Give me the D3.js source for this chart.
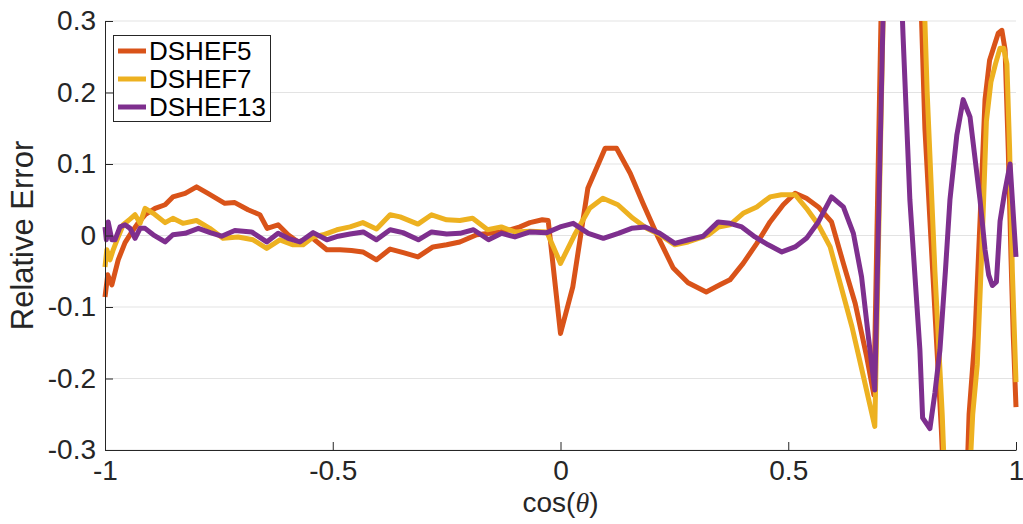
<!DOCTYPE html>
<html>
<head>
<meta charset="utf-8">
<script src="https://cdn.jsdelivr.net/npm/d3@7"></script>
<style>
  html, body { margin: 0; padding: 0; background: #fff; }
  svg { display: block; font-family: "Liberation Sans", Arial, Helvetica, sans-serif; }
</style>
</head>
<body>
<svg id="chart" width="1023" height="524"></svg>
<script>
// ---------- data ----------
const seriesNames = ["DSHEF5", "DSHEF7", "DSHEF13"];
const seriesColors = ["#D95319", "#EDB120", "#7E2F8E"];

const xTicks = [-1, -0.5, 0, 0.5, 1];
const xTickLabels = ["-1", "-0.5", "0", "0.5", "1"];
const yTicks = [-0.3, -0.2, -0.1, 0, 0.1, 0.2, 0.3];
const yTickLabels = ["-0.3", "-0.2", "-0.1", "0", "0.1", "0.2", "0.3"];

// DSHEF5
const x5 = [-1.000,-0.994,-0.985,-0.971,-0.956,-0.941,-0.928,-0.912,-0.890,-0.868,-0.851,-0.824,-0.799,-0.774,-0.737,-0.715,-0.686,-0.660,-0.644,-0.620,-0.598,-0.576,-0.546,-0.513,-0.484,-0.459,-0.434,-0.404,-0.374,-0.345,-0.313,-0.280,-0.250,-0.221,-0.184,-0.155,-0.133,-0.111,-0.089,-0.067,-0.040,-0.027,0.000,0.027,0.060,0.098,0.123,0.153,0.181,0.214,0.247,0.280,0.320,0.350,0.372,0.401,0.431,0.460,0.489,0.515,0.540,0.566,0.595,0.621,0.647,0.672,0.688,0.708,0.728,0.748,0.766,0.783,0.800,0.818,0.836,0.852,0.868,0.884,0.897,0.910,0.921,0.932,0.942,0.952,0.961,0.969,0.976,0.983,0.989,0.994,1.000];
const y5 = [-0.086,-0.055,-0.069,-0.034,-0.010,0.005,0.017,0.029,0.038,0.043,0.054,0.059,0.068,0.059,0.045,0.046,0.036,0.029,0.010,0.015,0.001,-0.009,-0.003,-0.020,-0.020,-0.021,-0.023,-0.034,-0.019,-0.024,-0.030,-0.016,-0.013,-0.009,0.001,0.003,0.005,0.008,0.012,0.018,0.022,0.021,-0.137,-0.072,0.066,0.122,0.122,0.087,0.045,-0.002,-0.045,-0.066,-0.079,-0.069,-0.062,-0.039,-0.011,0.019,0.043,0.059,0.052,0.040,0.019,-0.039,-0.095,-0.169,-0.223,0.45,0.80,0.95,0.85,0.50,0.15,-0.06,-0.27,-0.50,-0.62,-0.50,-0.25,-0.14,0.02,0.19,0.245,0.265,0.283,0.287,0.26,0.12,-0.03,-0.14,-0.24];

// DSHEF7
const x7 = [-1.000,-0.996,-0.989,-0.982,-0.971,-0.960,-0.945,-0.934,-0.923,-0.912,-0.894,-0.868,-0.851,-0.829,-0.799,-0.770,-0.741,-0.708,-0.675,-0.645,-0.616,-0.587,-0.565,-0.543,-0.521,-0.491,-0.462,-0.434,-0.404,-0.374,-0.352,-0.313,-0.283,-0.250,-0.221,-0.193,-0.160,-0.130,-0.100,-0.067,-0.030,0.000,0.031,0.064,0.093,0.126,0.159,0.189,0.218,0.251,0.280,0.313,0.325,0.347,0.372,0.401,0.431,0.460,0.485,0.515,0.540,0.566,0.592,0.614,0.640,0.665,0.690,0.710,0.730,0.750,0.770,0.790,0.805,0.822,0.838,0.853,0.868,0.882,0.895,0.905,0.915,0.925,0.935,0.945,0.955,0.965,0.973,0.980,0.986,0.992,1.000];
const y7 = [-0.044,-0.020,-0.034,-0.020,-0.002,0.015,0.023,0.029,0.017,0.038,0.031,0.018,0.024,0.017,0.021,0.010,-0.004,-0.002,-0.006,-0.018,-0.006,-0.013,-0.013,-0.002,0.001,0.008,0.012,0.018,0.009,0.029,0.026,0.016,0.029,0.022,0.021,0.024,0.008,0.012,0.005,0.006,0.005,-0.039,0.001,0.038,0.052,0.043,0.024,0.010,0.001,-0.013,-0.009,-0.002,0.001,0.012,0.015,0.031,0.040,0.054,0.057,0.057,0.038,0.015,-0.016,-0.067,-0.128,-0.197,-0.267,0.36,0.75,0.95,0.85,0.50,0.20,-0.05,-0.25,-0.50,-0.65,-0.60,-0.38,-0.25,-0.18,-0.02,0.16,0.215,0.24,0.262,0.262,0.24,0.12,-0.05,-0.205];

// DSHEF13
const x13 = [-1.000,-0.997,-0.993,-0.985,-0.978,-0.967,-0.956,-0.945,-0.934,-0.923,-0.912,-0.894,-0.868,-0.851,-0.824,-0.795,-0.769,-0.744,-0.715,-0.678,-0.645,-0.620,-0.598,-0.572,-0.543,-0.513,-0.488,-0.462,-0.433,-0.404,-0.374,-0.346,-0.312,-0.283,-0.250,-0.221,-0.191,-0.158,-0.129,-0.100,-0.067,-0.030,-0.001,0.028,0.061,0.094,0.127,0.156,0.186,0.218,0.251,0.281,0.313,0.346,0.372,0.398,0.427,0.456,0.486,0.515,0.540,0.566,0.595,0.621,0.643,0.661,0.676,0.690,0.710,0.728,0.742,0.752,0.767,0.789,0.795,0.811,0.822,0.833,0.845,0.855,0.870,0.884,0.899,0.921,0.932,0.940,0.948,0.957,0.965,0.975,0.987,1.000];
const y13 = [0.012,-0.006,0.019,-0.006,-0.006,0.012,0.015,0.010,-0.004,0.010,0.010,0.001,-0.009,0.001,0.003,0.010,0.004,-0.001,0.007,0.005,-0.009,0.003,-0.004,-0.009,0.004,-0.006,-0.001,0.002,0.005,-0.006,0.008,0.004,-0.006,0.005,0.002,0.003,0.008,-0.006,0.003,-0.002,0.005,0.004,0.012,0.017,0.003,-0.004,0.003,0.010,0.012,0.003,-0.011,-0.006,-0.001,0.019,0.017,0.012,-0.002,-0.013,-0.023,-0.016,-0.004,0.019,0.054,0.040,0.003,-0.058,-0.142,-0.216,0.36,0.65,0.45,0.28,0.05,-0.16,-0.255,-0.27,-0.22,-0.16,-0.05,0.05,0.14,0.19,0.166,0.05,-0.02,-0.055,-0.07,-0.065,0.02,0.06,0.10,-0.03];

// ---------- drawing ----------
const W = 1023, H = 524;
const plot = { left: 105, right: 1016, top: 21, bottom: 450 };
const svg = d3.select("#chart");

const x = d3.scaleLinear().domain([-1, 1]).range([plot.left, plot.right]);
const y = d3.scaleLinear().domain([-0.3, 0.3]).range([plot.bottom, plot.top]);

const ink = "#262626";
const tickFont = 28;

// horizontal grid
svg.append("g")
  .selectAll("line")
  .data(yTicks)
  .join("line")
  .attr("x1", plot.left).attr("x2", plot.right)
  .attr("y1", d => y(d)).attr("y2", d => y(d))
  .attr("stroke", "#e3e3e3").attr("stroke-width", 1);

// clip
svg.append("defs").append("clipPath").attr("id", "clip")
  .append("rect")
  .attr("x", 0).attr("y", plot.top)
  .attr("width", W).attr("height", plot.bottom - plot.top);

const line = d3.line().x(d => x(d[0])).y(d => y(d[1]));
const allSeries = [
  d3.zip(x5, y5),
  d3.zip(x7, y7),
  d3.zip(x13, y13)
];

const lines = svg.append("g").attr("clip-path", "url(#clip)");
allSeries.forEach((s, i) => {
  lines.append("path")
    .datum(s)
    .attr("fill", "none")
    .attr("stroke", seriesColors[i])
    .attr("stroke-width", 5)
    .attr("stroke-linejoin", "round")
    .attr("d", line);
});

// axes
const yAxis = d3.axisLeft(y)
  .tickValues(yTicks)
  .tickFormat((d, i) => yTickLabels[i])
  .tickSizeInner(-8).tickSizeOuter(0).tickPadding(9);
const gy = svg.append("g").attr("transform", `translate(${plot.left},0)`).call(yAxis);

const xAxis = d3.axisBottom(x)
  .tickValues(xTicks)
  .tickFormat((d, i) => xTickLabels[i])
  .tickSizeInner(-8).tickSizeOuter(0).tickPadding(10);
const gx = svg.append("g").attr("transform", `translate(0,${plot.bottom})`).call(xAxis);

[gx, gy].forEach(g => {
  g.select(".domain").attr("stroke", ink).attr("stroke-width", 1);
  g.selectAll(".tick line").attr("stroke", ink).attr("stroke-width", 1);
  g.selectAll(".tick text")
    .attr("fill", ink)
    .style("font-size", tickFont + "px")
    .style("font-family", '"Liberation Sans", Arial, sans-serif');
});

// axis labels
svg.append("text")
  .attr("x", (plot.left + plot.right) / 2)
  .attr("y", 512)
  .attr("text-anchor", "middle")
  .attr("fill", ink)
  .style("font-size", "28px")
  .call(t => {
    t.append("tspan").text("cos(");
    t.append("tspan").attr("font-style", "italic").attr("font-family", '"Liberation Serif", "Times New Roman", serif').text("θ");
    t.append("tspan").text(")");
  });

svg.append("text")
  .attr("transform", `translate(33,${(plot.top + plot.bottom) / 2}) rotate(-90)`)
  .attr("text-anchor", "middle")
  .attr("fill", ink)
  .style("font-size", "31px")
  .text("Relative Error");

// legend
const leg = svg.append("g");
leg.append("rect")
  .attr("x", 113.5).attr("y", 35.5)
  .attr("width", 157).attr("height", 86)
  .attr("fill", "#fff").attr("stroke", ink).attr("stroke-width", 1);
seriesNames.forEach((name, i) => {
  const cy = 51 + i * 28;
  leg.append("line")
    .attr("x1", 118).attr("x2", 146)
    .attr("y1", cy).attr("y2", cy)
    .attr("stroke", seriesColors[i]).attr("stroke-width", 5);
  leg.append("text")
    .attr("x", 149).attr("y", cy)
    .attr("dy", "0.36em")
    .attr("fill", "#000")
    .style("font-size", "26px")
    .text(name);
});
</script>
</body>
</html>
